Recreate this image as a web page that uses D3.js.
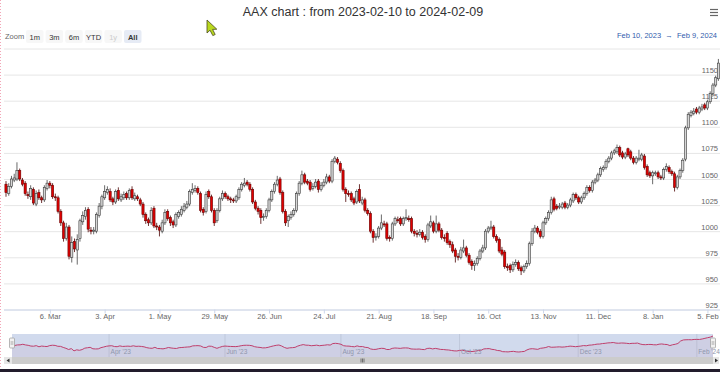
<!DOCTYPE html>
<html>
<head>
<meta charset="utf-8">
<script src="https://cdn.jsdelivr.net/npm/d3@7"></script>
<style>
  body { margin: 0; background: #fff; }
  svg { display: block; font-family: "Liberation Sans", Arial, sans-serif; }
</style>
</head>
<body>
<svg id="chart" width="720" height="372"></svg>
<script>
const startDate = "2023-02-10";
const endDate = "2024-02-09";

const opens = [
  1045,1036,1043,1049,1050,1058,1049,1046,1035,1033,
  1040,1026,1037,1032,1030,1041,1046,1044,1033,1032,
  1019,1008,993,1004,975,990,982,993,1009,1014,
  1021,1001,1000,1000,1015,1024,1032,1037,1038,1031,
  1028,1039,1030,1032,1036,1032,1040,1031,1033,1030,
  1026,1016,1011,1008,1022,1005,1004,1000,1008,1019,
  1013,1009,1006,1014,1016,1020,1023,1026,1037,1039,
  1041,1036,1021,1019,1038,1033,1020,1010,1020,1031,
  1036,1033,1031,1030,1029,1032,1040,1044,1047,1045,
  1040,1028,1022,1020,1013,1014,1020,1030,1038,1045,
  1050,1037,1019,1010,1013,1016,1020,1036,1046,1054,
  1048,1047,1041,1043,1048,1040,1044,1047,1052,1048,
  1067,1069,1065,1058,1040,1036,1036,1031,1028,1040,
  1027,1030,1020,1017,1000,994,995,1003,1007,1007,
  994,993,1007,1011,1012,1007,1012,1012,1012,1000,
  998,997,999,995,992,1005,1008,1000,1007,1001,
  994,998,990,987,982,976,975,981,984,977,
  971,967,969,974,981,984,1000,1003,1004,995,
  992,982,980,966,967,963,968,970,965,962,
  966,969,988,1000,1003,1000,995,1008,1012,1018,
  1031,1024,1023,1023,1027,1023,1025,1029,1035,1032,
  1028,1032,1036,1042,1039,1047,1049,1054,1059,1061,
  1067,1070,1075,1076,1080,1075,1071,1079,1076,1070,
  1066,1069,1069,1072,1062,1056,1053,1055,1056,1052,
  1051,1059,1061,1057,1055,1042,1052,1058,1069,1099,
  1111,1113,1117,1114,1117,1121,1118,1124,1132,1140,
  1146
];
const highs = [
  1048,1046,1053,1055,1066,1060,1051,1048,1038,1044,
  1042,1039,1040,1034,1044,1049,1048,1046,1036,1034,
  1021,1010,1008,1006,995,993,997,1012,1019,1023,
  1023,1004,1004,1018,1027,1035,1044,1043,1041,1033,
  1040,1042,1036,1038,1038,1041,1043,1037,1035,1032,
  1028,1018,1013,1023,1024,1008,1006,1011,1021,1021,
  1015,1011,1018,1020,1024,1027,1029,1040,1046,1044,
  1043,1038,1023,1038,1040,1035,1022,1022,1033,1039,
  1038,1035,1033,1032,1035,1042,1047,1051,1049,1047,
  1042,1030,1024,1022,1017,1022,1032,1040,1047,1053,
  1052,1039,1021,1016,1019,1022,1038,1048,1058,1056,
  1050,1049,1046,1050,1050,1047,1050,1055,1054,1069,
  1072,1071,1067,1060,1042,1039,1038,1033,1040,1045,
  1033,1032,1022,1019,1002,998,1005,1016,1010,1009,
  996,1009,1014,1014,1014,1014,1021,1015,1014,1002,
  1001,1002,1001,997,1008,1015,1010,1015,1009,1003,
  997,1000,992,990,984,979,985,992,986,979,
  973,972,976,983,987,1002,1005,1010,1006,997,
  994,985,982,969,969,971,973,972,967,968,
  972,990,1003,1006,1005,1002,1010,1014,1020,1033,
  1033,1026,1027,1028,1029,1027,1032,1037,1037,1034,
  1034,1038,1044,1044,1049,1051,1056,1062,1063,1069,
  1072,1077,1079,1083,1082,1077,1076,1080,1078,1072,
  1072,1078,1075,1074,1064,1058,1058,1058,1058,1054,
  1061,1065,1063,1059,1057,1054,1060,1070,1101,1114,
  1116,1118,1119,1120,1122,1123,1126,1134,1142,1149,
  1165
];
const lows = [
  1033,1034,1041,1047,1048,1048,1043,1034,1031,1030,
  1025,1024,1030,1027,1028,1039,1041,1031,1029,1017,
  1005,990,991,973,970,980,968,990,1006,1011,
  999,997,997,998,1013,1021,1030,1035,1028,1025,
  1026,1029,1028,1030,1030,1030,1030,1029,1029,1024,
  1013,1007,1005,1006,1003,1001,995,998,1006,1010,
  1005,1003,1004,1012,1014,1018,1021,1024,1035,1037,
  1035,1018,1015,1017,1031,1018,1005,1008,1018,1029,
  1031,1029,1027,1027,1027,1030,1038,1042,1043,1038,
  1026,1020,1016,1007,1010,1012,1018,1028,1036,1043,
  1035,1017,1005,1004,1011,1014,1018,1034,1044,1045,
  1044,1038,1039,1041,1037,1038,1042,1045,1046,1046,
  1065,1064,1056,1038,1028,1033,1028,1025,1026,1027,
  1025,1018,1015,998,989,991,993,1001,1004,991,
  990,991,1005,1008,1005,1005,1010,1009,998,995,
  994,995,992,989,990,1003,998,998,999,992,
  990,987,984,979,970,972,973,979,975,968,
  963,962,967,972,979,982,998,1001,993,989,
  979,976,964,962,960,961,966,962,958,960,
  964,967,986,998,997,993,993,1006,1010,1016,
  1019,1020,1021,1021,1021,1021,1023,1027,1030,1026,
  1026,1030,1034,1037,1037,1045,1047,1052,1057,1059,
  1065,1068,1073,1074,1071,1069,1069,1071,1068,1064,
  1064,1067,1067,1059,1052,1051,1045,1053,1050,1049,
  1049,1057,1055,1053,1038,1040,1050,1056,1067,1097,
  1109,1111,1112,1112,1115,1116,1116,1122,1130,1138,
  1144
];
const closes = [
  1037,1043,1050,1051,1058,1050,1045,1036,1034,1041,
  1027,1036,1032,1030,1042,1046,1044,1033,1032,1019,
  1008,993,1004,976,989,983,992,1010,1015,1020,
  1002,1000,1001,1016,1024,1033,1038,1040,1030,1028,
  1038,1031,1033,1035,1032,1039,1032,1034,1031,1026,
  1016,1010,1008,1020,1005,1004,1001,1008,1018,1012,
  1008,1006,1016,1018,1021,1024,1026,1038,1040,1041,
  1037,1020,1018,1035,1033,1020,1008,1020,1031,1036,
  1033,1031,1030,1029,1033,1040,1045,1046,1045,1040,
  1028,1022,1019,1013,1014,1020,1030,1038,1045,1049,
  1037,1019,1008,1014,1016,1020,1036,1046,1054,1047,
  1046,1040,1043,1047,1040,1044,1047,1052,1048,1067,
  1070,1066,1058,1040,1036,1035,1030,1027,1038,1029,
  1030,1020,1017,1000,994,995,1003,1008,1006,993,
  993,1007,1012,1010,1007,1012,1013,1011,1000,998,
  997,999,994,992,1006,1009,1000,1007,1001,994,
  993,989,987,981,976,975,982,984,977,970,
  967,969,974,981,984,1000,1003,1004,995,991,
  981,978,966,965,963,968,970,964,962,966,
  969,988,1000,1003,999,995,1008,1012,1018,1030,
  1021,1022,1024,1026,1023,1025,1030,1035,1032,1028,
  1032,1036,1042,1039,1047,1049,1054,1060,1061,1067,
  1070,1075,1077,1080,1073,1071,1074,1073,1070,1066,
  1070,1070,1073,1061,1054,1053,1056,1056,1052,1051,
  1059,1062,1057,1055,1042,1052,1058,1068,1099,1112,
  1114,1115,1114,1118,1119,1118,1124,1132,1140,1147,
  1161
];

const yTicks = [925, 950, 975, 1000, 1025, 1050, 1075, 1100, 1125, 1150, 1175];
const xTicks = ["2023-03-06","2023-04-03","2023-05-01","2023-05-29","2023-06-26","2023-07-24",
                "2023-08-21","2023-09-18","2023-10-16","2023-11-13","2023-12-11","2024-01-08","2024-02-05"];
const navTicks = ["2023-04-01","2023-06-01","2023-08-01","2023-10-01","2023-12-01","2024-02-01"];
const navTickLabels = ["Apr '23","Jun '23","Aug '23","Oct '23","Dec '23","Feb '24"];
const zoomButtons = ["1m","3m","6m","YTD","1y","All"];

const parse = d3.utcParse("%Y-%m-%d");
const days = d3.utcDays(parse(startDate), d3.utcDay.offset(parse(endDate), 1))
  .filter(d => d.getUTCDay() % 6 !== 0);
const dayIndex = date => d3.bisector(d => d).left(days, parse(date));

const svg = d3.select("#chart");
const W = 720, plotLeft = 4, plotRight = 720, plotTop = 48.5, plotBottom = 309.5;

// ordinal x: one slot per trading day
const x = d3.scaleLinear().domain([0, days.length - 1]).range([6, 718.4]);
const y = d3.scaleLinear().domain([925, 1175]).range([plotBottom, plotTop]);

// left pink dotted edge
svg.append("line").attr("x1", 0.5).attr("x2", 0.5).attr("y1", 0).attr("y2", 368)
  .attr("stroke", "#f2a7b8").attr("stroke-dasharray", "1,2");

// title
svg.append("text").attr("x", 363).attr("y", 16).attr("text-anchor", "middle")
  .attr("font-size", 12.5).attr("fill", "#333")
  .text(`AAX chart : from ${startDate} to ${endDate}`);

// menu icon
[9.5, 12.5, 15.5].forEach(v => {
  svg.append("line").attr("x1", 710).attr("x2", 718).attr("y1", v).attr("y2", v)
    .attr("stroke", "#666").attr("stroke-width", 1.2);
});

// range selector
svg.append("text").attr("x", 5).attr("y", 39).attr("font-size", 7.5).attr("fill", "#666").text("Zoom");
const btn = svg.append("g").selectAll("g").data(zoomButtons).join("g")
  .attr("transform", (d, i) => `translate(${26 + i * 19.6},30)`);
btn.append("rect").attr("width", 17.5).attr("height", 13).attr("rx", 2)
  .attr("fill", d => d === "All" ? "#e6ebf5" : "#f7f7f7");
btn.append("text").attr("x", 8.75).attr("y", 9.5).attr("text-anchor", "middle")
  .attr("font-size", 7.5)
  .attr("font-weight", d => d === "All" ? "bold" : "normal")
  .attr("fill", d => d === "1y" ? "#ccc" : "#333")
  .text(d => d);

const fmtRange = d3.utcFormat("%b %-d, %Y");
svg.append("text").attr("x", 717).attr("y", 38).attr("text-anchor", "end")
  .attr("font-size", 7.5).attr("fill", "#335cad").attr("xml:space", "preserve")
  .text(`${fmtRange(days[0])}  \u2192  ${fmtRange(days[days.length - 1])}`);

// y grid + labels
const yAxis = svg.append("g").attr("transform", `translate(${plotRight},0)`)
  .call(d3.axisLeft(y).tickValues(yTicks).tickSize(plotRight - plotLeft).tickPadding(0));
yAxis.select(".domain").remove();
yAxis.selectAll("line").attr("stroke", "#e6e6e6");
yAxis.selectAll("text")
  .attr("x", -2).attr("dy", -2).attr("text-anchor", "end")
  .attr("font-size", 7.5).attr("fill", "#666").attr("font-family", null)
  .text(d => d === 1175 ? "" : d);

// x axis
const fmtTick = d3.utcFormat("%-d. %b");
const xAxis = svg.append("g").attr("transform", `translate(0,${plotBottom})`)
  .call(d3.axisBottom(x).tickValues(xTicks.map(dayIndex)).tickSize(4).tickPadding(0)
    .tickFormat(i => fmtTick(days[i])));
xAxis.select(".domain").attr("d", `M${plotLeft},0.5H${plotRight}`).attr("stroke", "#ccd6eb");
xAxis.selectAll("line").attr("stroke", "#ccd6eb");
xAxis.selectAll("text").attr("font-size", 7.5).attr("fill", "#666").attr("font-family", null);

// candles
const idx = d3.range(days.length);
const up = i => closes[i] >= opens[i];
const candle = svg.append("g").selectAll("g").data(idx).join("g");
candle.append("line")
  .attr("x1", i => x(i)).attr("x2", i => x(i))
  .attr("y1", i => y(highs[i])).attr("y2", i => y(lows[i]))
  .attr("stroke", i => up(i) ? "#444" : "#4a0000").attr("stroke-width", 0.8);
candle.append("rect")
  .attr("x", i => x(i) - 1.1).attr("width", 2.2)
  .attr("y", i => y(Math.max(opens[i], closes[i])))
  .attr("height", i => Math.max(0.8, Math.abs(y(opens[i]) - y(closes[i]))))
  .attr("fill", i => up(i) ? "#d6d6d6" : "#e00000")
  .attr("stroke", i => up(i) ? "#3a3a3a" : "#6a0000").attr("stroke-width", 0.6);

// navigator
const navLeft = 12, navRight = 713, navTop = 334, navBottom = 357;
const nx = d3.scaleLinear().domain([0, days.length - 1]).range([navLeft, navRight]);
const ny = d3.scaleLinear().domain(d3.extent(closes)).range([352, 336]);
const nav = svg.append("g");
nav.selectAll("line.grid").data(navTicks).join("line").attr("class", "grid")
  .attr("x1", d => nx(dayIndex(d))).attr("x2", d => nx(dayIndex(d)))
  .attr("y1", navTop).attr("y2", navBottom).attr("stroke", "#e6e6e6");
nav.append("path").datum(idx)
  .attr("d", d3.area().x(i => nx(i)).y0(navBottom).y1(i => ny(closes[i])))
  .attr("fill", "rgba(200,40,90,0.07)");
nav.append("rect").attr("x", navLeft).attr("y", navTop).attr("width", navRight - navLeft)
  .attr("height", navBottom - navTop).attr("fill", "rgba(102,133,194,0.3)");
nav.append("path").datum(idx)
  .attr("d", d3.line().x(i => nx(i)).y(i => ny(closes[i])))
  .attr("fill", "none").attr("stroke", "#bf3f6c").attr("stroke-width", 1);
nav.selectAll("text").data(navTicks).join("text")
  .attr("x", d => nx(dayIndex(d)) + 1.5).attr("y", 354)
  .attr("font-size", 6.5).attr("fill", "#8f96ac")
  .text((d, i) => navTickLabels[i]);
[navLeft, navRight].forEach(hx => {
  nav.append("rect").attr("x", hx - 2.5).attr("y", 338).attr("width", 5).attr("height", 10)
    .attr("rx", 1).attr("fill", "#f2f2f2").attr("stroke", "#999").attr("stroke-width", 0.7);
  [-0.8, 0.8].forEach(o => nav.append("line").attr("x1", hx + o).attr("x2", hx + o)
    .attr("y1", 341).attr("y2", 345).attr("stroke", "#999").attr("stroke-width", 0.6));
});

// scrollbar
const sb = svg.append("g");
sb.append("rect").attr("x", 4).attr("y", 357).attr("width", 715).attr("height", 7).attr("fill", "#f2f2f2");
sb.append("rect").attr("x", navLeft).attr("y", 357).attr("width", navRight - navLeft).attr("height", 7).attr("fill", "#cccccc");
sb.append("rect").attr("x", 4).attr("y", 357).attr("width", 8).attr("height", 7).attr("fill", "#e6e6e6");
sb.append("rect").attr("x", navRight).attr("y", 357).attr("width", 6).attr("height", 7).attr("fill", "#e6e6e6");
sb.append("path").attr("d", "M9.5,358.5L6.5,360.5L9.5,362.5Z").attr("fill", "#333");
sb.append("path").attr("d", "M715,358.5L718,360.5L715,362.5Z").attr("fill", "#333");
[-1.5, 0, 1.5].forEach(o => sb.append("line")
  .attr("x1", (navLeft + navRight) / 2 + o).attr("x2", (navLeft + navRight) / 2 + o)
  .attr("y1", 358.5).attr("y2", 362.5).attr("stroke", "#333").attr("stroke-width", 0.6));

// bottom dark strip
svg.append("rect").attr("x", 0).attr("y", 369).attr("width", W).attr("height", 3).attr("fill", "#221c2c");

// mouse cursor
svg.append("path")
  .attr("d", "M207,20L207,33L210,30.2L212.8,35.6L215.2,34.5L212.6,29.4L216.8,29.2Z")
  .attr("fill", "#b9d81e").attr("stroke", "#4a4a20").attr("stroke-width", 0.8);
</script>
</body>
</html>
